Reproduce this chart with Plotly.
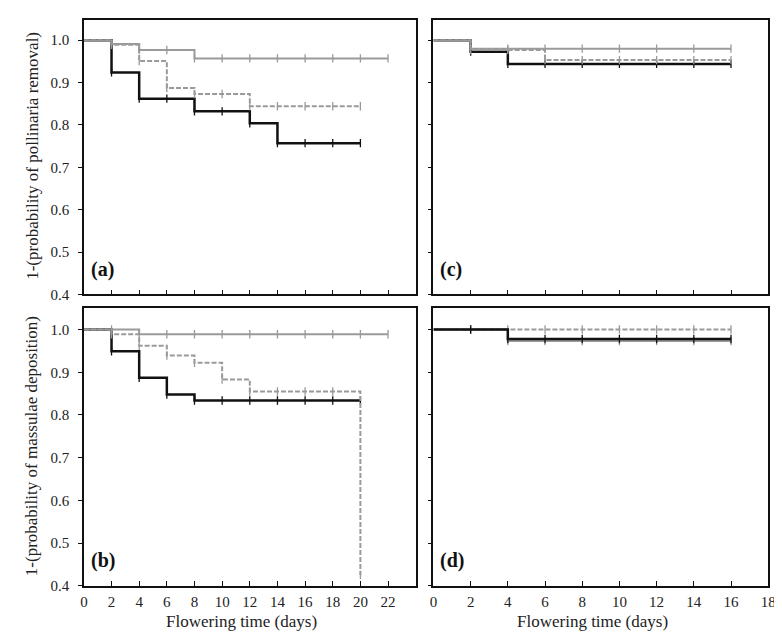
import plotly.graph_objects as go

# ---------------- data ----------------
# Panel (a): pollinaria removal, left site
a_black_t = [0, 2, 4, 8, 12, 14, 20]
a_black_s = [1.0, 0.924, 0.862, 0.832, 0.804, 0.757, 0.757]
a_black_c = [2, 4, 6, 8, 10, 12, 14, 16, 18, 20]
a_dash_t = [0, 2, 4, 6, 8, 12, 20]
a_dash_s = [1.0, 0.989, 0.951, 0.887, 0.873, 0.844, 0.844]
a_dash_c = [2, 4, 6, 8, 10, 12, 14, 16, 18, 20]
a_grey_t = [0, 2, 4, 8, 22]
a_grey_s = [1.0, 0.991, 0.977, 0.957, 0.957]
a_grey_c = [2, 4, 6, 8, 10, 12, 14, 16, 18, 20, 22]

# Panel (b): massulae deposition, left site
b_black_t = [0, 2, 4, 6, 8, 20]
b_black_s = [1.0, 0.949, 0.887, 0.848, 0.834, 0.834]
b_black_c = [2, 4, 6, 8, 10, 12, 14, 16, 18, 20]
b_dash_t = [0, 2, 4, 6, 8, 10, 12, 20]
b_dash_s = [1.0, 0.989, 0.962, 0.939, 0.922, 0.883, 0.855, 0.425]
b_dash_c = [2, 4, 6, 8, 10, 12, 14, 16, 18, 20]
b_grey_t = [0, 4, 22]
b_grey_s = [1.0, 0.989, 0.989]
b_grey_c = [2, 4, 6, 8, 10, 12, 14, 16, 18, 20, 22]

# Panel (c): pollinaria removal, right site
c_black_t = [0, 2, 4, 16]
c_black_s = [1.0, 0.973, 0.944, 0.944]
c_dash_t = [0, 2, 6, 16]
c_dash_s = [1.0, 0.977, 0.953, 0.953]
c_grey_t = [0, 2, 16]
c_grey_s = [1.0, 0.980, 0.980]
c_cens = [2, 4, 6, 8, 10, 12, 14, 16]

# Panel (d): massulae deposition, right site
d_black_t = [0, 4, 16]
d_black_s = [1.0, 0.978, 0.978]
d_dash_t = [0, 4, 16]
d_dash_s = [1.0, 1.0, 1.0]
d_grey_t = [0, 4, 16]
d_grey_s = [1.0, 0.973, 0.973]
d_cens = [2, 4, 6, 8, 10, 12, 14, 16]

y_ticks = [0.4, 0.5, 0.6, 0.7, 0.8, 0.9, 1.0]
y_ticklabels = ["0.4", "0.5", "0.6", "0.7", "0.8", "0.9", "1.0"]
x_ticks_left = list(range(0, 23, 2))
x_ticks_right = list(range(0, 19, 2))

BLACK = "#111111"
GREY = "#9a9a9a"
FONT = "'Liberation Serif', 'Times New Roman', Times, serif"


def step_value(ts, ss, t):
    v = ss[0]
    for ti, si in zip(ts, ss):
        if ti <= t:
            v = si
    return v


fig = go.Figure()


def add_curve(ts, ss, cens, color, width, dash, xa, ya):
    fig.add_trace(go.Scatter(
        x=ts, y=ss, mode="lines", line=dict(color=color, width=width, dash=dash, shape="hv"),
        xaxis=xa, yaxis=ya, showlegend=False, hoverinfo="skip"))
    fig.add_trace(go.Scatter(
        x=cens, y=[step_value(ts, ss, c) for c in cens], mode="markers",
        marker=dict(symbol="line-ns", size=6, line=dict(color=color, width=1.3)),
        xaxis=xa, yaxis=ya, showlegend=False, hoverinfo="skip"))


# (a)
add_curve(a_black_t, a_black_s, a_black_c, BLACK, 2.5, "solid", "x", "y")
add_curve(a_dash_t, a_dash_s, a_dash_c, GREY, 2, "5px,2px", "x", "y")
add_curve(a_grey_t, a_grey_s, a_grey_c, GREY, 2, "solid", "x", "y")
# (b)
add_curve(b_black_t, b_black_s, b_black_c, BLACK, 2.5, "solid", "x3", "y3")
add_curve(b_dash_t, b_dash_s, b_dash_c, GREY, 2, "5px,2px", "x3", "y3")
add_curve(b_grey_t, b_grey_s, b_grey_c, GREY, 2, "solid", "x3", "y3")
# (c)
add_curve(c_black_t, c_black_s, c_cens, BLACK, 2.5, "solid", "x2", "y2")
add_curve(c_dash_t, c_dash_s, c_cens, GREY, 2, "5px,2px", "x2", "y2")
add_curve(c_grey_t, c_grey_s, c_cens, GREY, 2, "solid", "x2", "y2")
# (d)
add_curve(d_grey_t, d_grey_s, d_cens, GREY, 2, "solid", "x4", "y4")
add_curve(d_dash_t, d_dash_s, d_cens, GREY, 2, "5px,2px", "x4", "y4")
add_curve(d_black_t, d_black_s, d_cens, BLACK, 2.5, "solid", "x4", "y4")

W, H = 782, 643
xL = [73 / W, 410 / W]
xR = [428 / W, 768 / W]
yT = [1 - 290 / H, 1 - 12 / H]
yB = [1 - 585 / H, 1 - 304 / H]

tickfont = dict(family=FONT, size=15, color="#222")
axline = dict(showline=True, linecolor="#111", linewidth=1.5, mirror=True,
              showgrid=False, zeroline=False)


def xaxis(dom, rng, ticks, labels, anchor):
    return dict(domain=dom, range=rng, anchor=anchor, tickvals=ticks,
                ticktext=[str(t) for t in ticks],
                showticklabels=labels, ticks="inside", ticklen=5, tickwidth=1.2,
                tickcolor="#111", tickfont=tickfont, ticklabelstandoff=2, **axline)


def yaxis(dom, rng, labels, anchor):
    return dict(domain=dom, range=rng, anchor=anchor, tickvals=y_ticks,
                ticktext=y_ticklabels, showticklabels=labels, ticks="outside",
                ticklen=4, tickwidth=1.2, tickcolor="#111", tickfont=tickfont,
                ticklabelstandoff=6, **axline)


fig.update_layout(
    width=W, height=H, margin=dict(l=0, r=0, t=0, b=0),
    paper_bgcolor="white", plot_bgcolor="white",
    font=dict(family=FONT, color="#222"),
    xaxis=xaxis(xL, [0, 24], x_ticks_left, False, "y"),
    yaxis=yaxis(yT, [0.4, 1.048], True, "x"),
    xaxis2=xaxis(xR, [0, 18], x_ticks_right, False, "y2"),
    yaxis2=yaxis(yT, [0.4, 1.048], False, "x2"),
    xaxis3=xaxis(xL, [0, 24], x_ticks_left, True, "y3"),
    yaxis3=yaxis(yB, [0.4, 1.05], True, "x3"),
    xaxis4=xaxis(xR, [0, 18], x_ticks_right, True, "y4"),
    yaxis4=yaxis(yB, [0.4, 1.05], False, "x4"),
)

ann = []
for lab, xr, yr in [("(a)", "x", "y"), ("(b)", "x3", "y3"), ("(c)", "x2", "y2"), ("(d)", "x4", "y4")]:
    ann.append(dict(text="<b>%s</b>" % lab, xref=xr + " domain", yref=yr + " domain",
                    x=0.015, y=0.09, xanchor="left", yanchor="middle", showarrow=False,
                    font=dict(family=FONT, size=20, color="#111")))
ann.append(dict(text="1-(probability of pollinaria removal)", xref="paper", yref="paper",
                x=20 / W, y=1 - 150 / H, xanchor="center", yanchor="middle",
                textangle=-90, showarrow=False,
                font=dict(family=FONT, size=17, color="#222")))
ann.append(dict(text="1-(probability of massulae deposition)", xref="paper", yref="paper",
                x=20 / W, y=1 - 444 / H, xanchor="center", yanchor="middle",
                textangle=-90, showarrow=False,
                font=dict(family=FONT, size=17, color="#222")))
ann.append(dict(text="Flowering time (days)", xref="paper", yref="paper",
                x=233 / W, y=1 - 621 / H, xanchor="center", yanchor="middle", showarrow=False,
                font=dict(family=FONT, size=17, color="#222")))
ann.append(dict(text="Flowering time (days)", xref="paper", yref="paper",
                x=590 / W, y=1 - 621 / H, xanchor="center", yanchor="middle", showarrow=False,
                font=dict(family=FONT, size=17, color="#222")))
fig.update_layout(annotations=ann)

fig.write_html("out.html")
